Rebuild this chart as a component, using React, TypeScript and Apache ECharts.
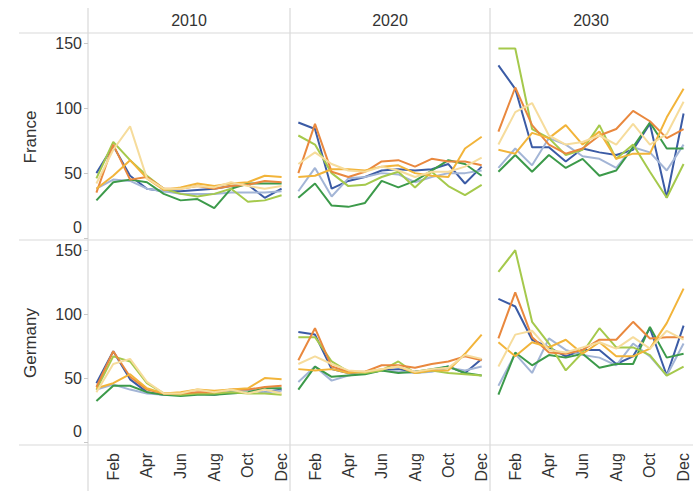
import React, { useEffect, useRef } from "react";
import * as echarts from "echarts";

const MONTHS = ["Jan", "Feb", "Mar", "Apr", "May", "Jun", "Jul", "Aug", "Sep", "Oct", "Nov", "Dec"];
const YEARS = ["2010", "2020", "2030"];
const COUNTRIES = ["France", "Germany"];
const SERIES_NAMES = ["Blue", "Light Blue", "Green", "Light Green", "Orange", "Gold", "Yellow"];
const Y_TICKS = [0, 50, 100, 150];

// each panel: one array per series, in SERIES_NAMES order, Jan..Dec
const FRANCE_2010 = [
  [50, 71, 48, 38, 36, 36, 37, 38, 40, 41, 31, 38],
  [38, 45, 44, 38, 36, 34, 34, 34, 35, 35, 35, 36],
  [29, 43, 45, 43, 34, 29, 30, 23, 38, 42, 42, 42],
  [46, 74, 60, 48, 38, 34, 32, 34, 38, 28, 29, 33],
  [35, 72, 45, 47, 38, 38, 40, 38, 40, 41, 44, 43],
  [38, 48, 60, 46, 37, 39, 42, 40, 42, 43, 48, 47],
  [42, 68, 86, 46, 38, 38, 40, 39, 43, 40, 38, 40],
];
const FRANCE_2020 = [
  [89, 84, 38, 44, 47, 52, 53, 52, 53, 57, 42, 55],
  [36, 54, 32, 46, 47, 50, 49, 43, 47, 50, 50, 52],
  [31, 42, 25, 24, 27, 44, 39, 44, 52, 60, 57, 48],
  [79, 72, 50, 40, 41, 47, 51, 39, 51, 40, 33, 41],
  [50, 88, 51, 47, 51, 59, 60, 55, 61, 59, 59, 56],
  [47, 48, 53, 53, 52, 55, 56, 50, 48, 47, 69, 78],
  [57, 66, 57, 52, 51, 55, 52, 47, 51, 51, 55, 62],
];
const FRANCE_2030 = [
  [133, 115, 70, 70, 59, 69, 66, 64, 68, 88, 31, 96],
  [54, 69, 56, 77, 72, 63, 61, 54, 70, 66, 52, 72],
  [51, 64, 51, 64, 54, 61, 48, 52, 70, 89, 69, 69],
  [146, 146, 84, 77, 64, 68, 87, 61, 72, 51, 31, 57],
  [82, 116, 87, 72, 65, 69, 79, 84, 98, 90, 77, 84],
  [68, 65, 81, 77, 87, 72, 82, 61, 65, 65, 93, 115],
  [72, 97, 104, 79, 72, 74, 79, 72, 88, 72, 80, 105],
];
const GERMANY_2010 = [
  [46, 71, 49, 39, 37, 37, 38, 37, 39, 41, 39, 41],
  [41, 45, 41, 38, 37, 37, 38, 38, 39, 41, 39, 40],
  [32, 44, 44, 39, 37, 36, 37, 37, 38, 39, 42, 42],
  [41, 67, 63, 46, 38, 37, 38, 38, 39, 38, 38, 37],
  [43, 71, 51, 41, 38, 38, 39, 39, 41, 41, 43, 44],
  [42, 46, 53, 42, 38, 39, 41, 40, 41, 42, 50, 49],
  [39, 61, 65, 47, 38, 38, 41, 39, 41, 38, 41, 38],
];
const GERMANY_2020 = [
  [86, 84, 57, 54, 54, 56, 57, 55, 56, 59, 54, 65],
  [47, 59, 48, 52, 54, 56, 55, 54, 55, 58, 56, 59],
  [41, 59, 51, 52, 53, 56, 54, 55, 57, 59, 54, 52],
  [82, 82, 63, 55, 54, 56, 63, 54, 56, 54, 53, 52],
  [64, 89, 59, 55, 55, 60, 60, 58, 61, 63, 67, 64],
  [57, 56, 57, 54, 55, 57, 59, 54, 56, 56, 69, 84],
  [61, 67, 61, 56, 55, 57, 59, 55, 57, 58, 68, 65],
];
const GERMANY_2030 = [
  [112, 106, 80, 74, 67, 72, 72, 61, 67, 89, 52, 91],
  [44, 69, 54, 81, 72, 68, 66, 60, 77, 67, 52, 77],
  [37, 70, 60, 68, 66, 69, 58, 61, 61, 90, 66, 69],
  [133, 150, 94, 77, 56, 70, 89, 74, 74, 68, 52, 59],
  [81, 117, 82, 70, 69, 72, 80, 80, 94, 81, 82, 82],
  [78, 67, 78, 74, 80, 69, 78, 67, 67, 73, 93, 120],
  [59, 84, 87, 72, 70, 74, 78, 73, 82, 73, 87, 80],
];

const PANELS = [
  [FRANCE_2010, FRANCE_2020, FRANCE_2030],
  [GERMANY_2010, GERMANY_2020, GERMANY_2030],
];

const COLORS = ["#3b5ba5", "#a3b5d6", "#3c9a4a", "#a5c94c", "#e9883e", "#f2b43a", "#f6dc9c"];
const FONT = "'Liberation Sans', Arial, sans-serif";
const TXT = "#333333";
const RULE = "#d9d9d9";

const COLS = [
  { left: 88, width: 202 },
  { left: 290, width: 200 },
  { left: 490, width: 202 },
];
const ROWS = [
  { top: 33, height: 205 },
  { top: 240, height: 202 },
];

export default function App() {
  const ref = useRef<HTMLDivElement>(null);

  useEffect(() => {
    if (!ref.current) return;
    const chart = echarts.init(ref.current, null, { renderer: "svg" });

    const grid: any[] = [];
    const xAxis: any[] = [];
    const yAxis: any[] = [];
    const series: any[] = [];

    ROWS.forEach((r, ri) => {
      COLS.forEach((c, ci) => {
        const idx = ri * 3 + ci;
        grid.push({ left: c.left, width: c.width, top: r.top, height: r.height });
        xAxis.push({
          type: "category",
          gridIndex: idx,
          data: MONTHS,
          boundaryGap: true,
          axisLine: { show: false },
          axisTick: { show: false },
          splitLine: { show: false },
          axisLabel: {
            show: ri === 1,
            rotate: 90,
            margin: 11,
            interval: (i: number) => i % 2 === 1,
            fontSize: 16,
            fontFamily: FONT,
            color: TXT,
          },
        });
        yAxis.push({
          type: "value",
          gridIndex: idx,
          min: 0,
          max: 158,
          interval: 50,
          axisLine: { show: false },
          splitLine: { show: false },
          axisTick: {
            show: ci === 0,
            length: 4,
            customValues: Y_TICKS,
            lineStyle: { color: "#c8c8c8" },
          },
          axisLabel: {
            show: ci === 0,
            margin: 6,
            customValues: Y_TICKS,
            fontSize: 16,
            fontFamily: FONT,
            color: TXT,
            formatter: (v: number) => (v === 0 ? "{z|0}" : Y_TICKS.includes(v) ? String(v) : ""),
            rich: {
              z: { fontSize: 16, fontFamily: FONT, color: TXT, padding: [0, 0, 22, 0] },
            },
          },
        });
        PANELS[ri][ci].forEach((vals, si) => {
          series.push({
            type: "line",
            name: SERIES_NAMES[si],
            xAxisIndex: idx,
            yAxisIndex: idx,
            data: vals,
            showSymbol: false,
            symbol: "none",
            lineStyle: { width: 2, color: COLORS[si] },
            itemStyle: { color: COLORS[si] },
            z: 2,
          });
        });
      });
    });

    const graphic: any[] = [];
    [88, 290, 490].forEach((x) => {
      graphic.push({
        type: "line",
        shape: { x1: x, y1: 8, x2: x, y2: 491 },
        style: { stroke: RULE, lineWidth: 1.2 },
        silent: true,
      });
    });
    [33, 240, 445].forEach((y) => {
      graphic.push({
        type: "line",
        shape: { x1: 19, y1: y, x2: 693, y2: y },
        style: { stroke: RULE, lineWidth: 1.2 },
        silent: true,
      });
    });
    YEARS.forEach((yr, i) => {
      graphic.push({
        type: "text",
        x: COLS[i].left + COLS[i].width / 2,
        y: 20,
        style: {
          text: yr,
          fontSize: 16,
          fontFamily: FONT,
          fill: TXT,
          align: "center",
          verticalAlign: "middle",
        },
      });
    });
    const rowCenters = [137, 343];
    COUNTRIES.forEach((name, i) => {
      graphic.push({
        type: "text",
        x: 30,
        y: rowCenters[i],
        rotation: Math.PI / 2,
        style: {
          text: name,
          fontSize: 17,
          fontFamily: FONT,
          fill: TXT,
          align: "center",
          verticalAlign: "middle",
        },
      });
    });

    chart.setOption({
      animation: false,
      backgroundColor: "#ffffff",
      grid,
      xAxis,
      yAxis,
      series,
      graphic,
    });

    return () => chart.dispose();
  }, []);

  return (
    <div
      ref={ref}
      style={{ position: "fixed", left: 0, top: 0, width: 693, height: 491 }}
    />
  );
}
